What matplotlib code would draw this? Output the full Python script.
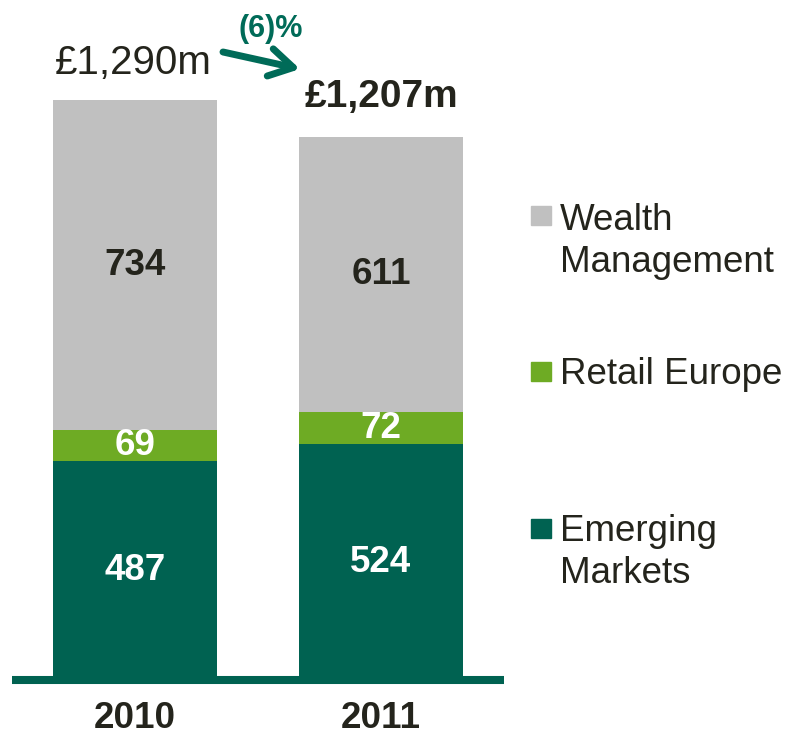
import numpy as np
import matplotlib.pyplot as plt
from matplotlib.patches import Rectangle

years = ["2010", "2011"]
emerging = [487, 524]
retail = [69, 72]
wealth = [734, 611]
totals = ["£1,290m", "£1,207m"]
change = "(6)%"

c_grey = "#C0C0C0"
c_light = "#6EAB24"
c_dark = "#006251"
c_text = "#24241C"

plt.rcParams['font.family'] = ['Liberation Sans', 'DejaVu Sans']

W, H = 788, 739
fig = plt.figure(figsize=(W / 100, H / 100), dpi=100)
# axes placed in pixel units: x from 12 to 504, baseline at y=680 from top
ax = fig.add_axes([12 / W, (H - 680) / H, 492 / W, 652 / H])
x = np.arange(len(years))
em = np.array(emerging)
re = np.array(retail)
wm = np.array(wealth)
bw = 164 / 246

ax.bar(x, em, bw, color=c_dark)
ax.bar(x, re, bw, bottom=em, color=c_light)
ax.bar(x, wm, bw, bottom=em + re, color=c_grey)
ax.set_xlim(-0.5, 1.5)
ax.set_ylim(0, 652 / (580 / 1290))
ax.axhline(0, color=c_dark, lw=5.8, zorder=5, clip_on=False, solid_capstyle='butt')

for s in ax.spines.values():
    s.set_visible(False)
ax.set_yticks([])
ax.set_xticks(x)
ax.set_xticklabels(years, fontsize=26.5, fontweight='bold', color=c_text)
ax.tick_params(axis='x', length=0, pad=15)

# segment values
for i in range(len(years)):
    ax.text(x[i], em[i] / 2, str(em[i]), ha='center', va='center',
            fontsize=26.5, fontweight='bold', color='white')
    ax.text(x[i], em[i] + re[i] / 2, str(re[i]), ha='center', va='center',
            fontsize=26.5, fontweight='bold', color='white')
    ax.text(x[i], em[i] + re[i] + wm[i] / 2, str(wm[i]), ha='center', va='center',
            fontsize=26.5, fontweight='bold', color=c_text)

tot = em + re + wm
ax.annotate(totals[0], (x[0], tot[0]), xytext=(-1, 19), textcoords='offset points',
            ha='center', va='baseline', fontsize=29, color=c_text, annotation_clip=False)
ax.annotate(totals[1], (x[1], tot[1]), xytext=(0, 22), textcoords='offset points',
            ha='center', va='baseline', fontsize=28, fontweight='bold', color=c_text,
            annotation_clip=False)

# change arrow
ax.annotate("", xy=(300, H - 69), xycoords='figure pixels',
            xytext=(223, H - 52), textcoords='figure pixels',
            arrowprops=dict(arrowstyle='->,head_length=0.85,head_width=0.5',
                            mutation_scale=20, color="#006B58", lw=5,
                            shrinkA=0, shrinkB=0, capstyle='round'))
fig.text(271 / W, 1 - 37 / H, change, ha='center', va='baseline', fontsize=22,
         fontweight='bold', color="#006B58")

# legend drawn by hand
leg = [(c_grey, 206, ["Wealth", "Management"], 230),
       (c_light, 362, ["Retail Europe"], 384),
       (c_dark, 519, ["Emerging", "Markets"], 541)]
for col, sq_top, lines, base in leg:
    fig.patches.append(Rectangle((531 / W, 1 - (sq_top + 19) / H), 20 / W, 19 / H,
                                 transform=fig.transFigure, color=col))
    for k, line in enumerate(lines):
        fig.text(560 / W, 1 - (base + 42 * k) / H, line, ha='left', va='baseline',
                 fontsize=26.5, color=c_text)

plt.savefig('out.png', dpi=100)
